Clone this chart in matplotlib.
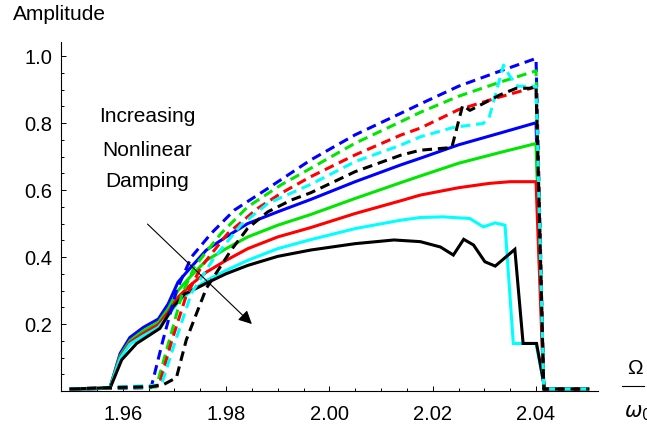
import matplotlib.pyplot as plt
from matplotlib.ticker import MultipleLocator, FixedLocator
from matplotlib.lines import Line2D

plt.rcParams['font.family'] = ['Liberation Sans', 'DejaVu Sans']

# frequency ratio Omega/omega_0 and response amplitude, read per curve
# solid curves
w_blue_s = [1.95, 1.9575, 1.9595, 1.9614, 1.964, 1.9669, 1.9688, 1.9707, 1.973, 1.9762, 1.980, 1.9842,
            1.990, 1.9964, 2.005, 2.0138, 2.0176, 2.025, 2.033, 2.040, 2.0415, 2.05]
a_blue_s = [0.006, 0.008, 0.112, 0.16, 0.19, 0.215, 0.26, 0.325, 0.366, 0.421, 0.46, 0.50,
            0.535, 0.572, 0.625, 0.675, 0.695, 0.735, 0.77, 0.801, 0.006, 0.006]

w_green_s = [1.95, 1.9575, 1.9595, 1.9614, 1.964, 1.9669, 1.9688, 1.9707, 1.973, 1.9762, 1.980, 1.9842,
             1.990, 1.9964, 2.005, 2.0138, 2.0176, 2.025, 2.033, 2.040, 2.0415, 2.05]
a_green_s = [0.006, 0.008, 0.105, 0.15, 0.18, 0.205, 0.245, 0.30, 0.34, 0.39, 0.425, 0.46,
             0.495, 0.527, 0.575, 0.622, 0.642, 0.68, 0.712, 0.739, 0.006, 0.006]

w_red_s = [1.95, 1.9575, 1.9595, 1.9614, 1.964, 1.9669, 1.9688, 1.9707, 1.973, 1.9762, 1.980, 1.9842,
           1.990, 1.9964, 2.005, 2.0138, 2.0176, 2.025, 2.031, 2.035, 2.040, 2.0415, 2.05]
a_red_s = [0.006, 0.008, 0.10, 0.145, 0.172, 0.198, 0.235, 0.28, 0.315, 0.355, 0.39, 0.425,
           0.46, 0.488, 0.53, 0.568, 0.585, 0.607, 0.62, 0.625, 0.625, 0.006, 0.006]

w_cyan_s = [1.95, 1.9575, 1.9595, 1.9614, 1.964, 1.9669, 1.9688, 1.9707, 1.973, 1.9762, 1.980, 1.9842,
            1.990, 1.9964, 2.005, 2.0138, 2.0176, 2.022, 2.0272, 2.0298, 2.0321, 2.034, 2.0356,
            2.040, 2.0417, 2.05]
a_cyan_s = [0.006, 0.008, 0.097, 0.14, 0.165, 0.19, 0.225, 0.265, 0.295, 0.33, 0.36, 0.39,
            0.425, 0.452, 0.485, 0.51, 0.518, 0.52, 0.515, 0.49, 0.502, 0.495, 0.142,
            0.142, 0.006, 0.006]

w_black_s = [1.95, 1.9576, 1.9598, 1.9627, 1.965, 1.9672, 1.9698, 1.972, 1.9743, 1.9762, 1.980, 1.9842,
             1.990, 1.9964, 2.005, 2.0125, 2.0176, 2.0215, 2.024, 2.026, 2.0279, 2.0301, 2.0321,
             2.0359, 2.0375, 2.0401, 2.0417, 2.05]
a_black_s = [0.006, 0.01, 0.093, 0.142, 0.165, 0.187, 0.252, 0.29, 0.307, 0.322, 0.35, 0.375,
             0.402, 0.421, 0.44, 0.451, 0.446, 0.43, 0.406, 0.453, 0.436, 0.386, 0.373,
             0.423, 0.142, 0.142, 0.006, 0.006]

# dashed curves
w_blue_d = [1.95, 1.9655, 1.9678, 1.9704, 1.9733, 1.9771, 1.9816, 1.9881, 1.9964, 2.005, 2.0138,
            2.0176, 2.025, 2.033, 2.040, 2.0415, 2.05]
a_blue_d = [0.006, 0.01, 0.152, 0.30, 0.40, 0.47, 0.54, 0.605, 0.69, 0.765, 0.829,
            0.857, 0.91, 0.955, 0.993, 0.006, 0.006]

w_green_d = [1.95, 1.9665, 1.969, 1.9715, 1.9739, 1.979, 1.9842, 1.9906, 1.9964, 2.005, 2.0138,
             2.0176, 2.025, 2.033, 2.040, 2.0415, 2.05]
a_green_d = [0.006, 0.012, 0.15, 0.29, 0.371, 0.47, 0.55, 0.615, 0.665, 0.74, 0.804,
             0.832, 0.88, 0.922, 0.956, 0.006, 0.006]

w_red_d = [1.95, 1.967, 1.9695, 1.9722, 1.9752, 1.9803, 1.9861, 1.9906, 1.9964, 2.005, 2.0138,
           2.0176, 2.025, 2.033, 2.040, 2.0415, 2.05]
a_red_d = [0.006, 0.015, 0.15, 0.28, 0.371, 0.47, 0.545, 0.59, 0.64, 0.705, 0.764,
           0.785, 0.84, 0.878, 0.908, 0.006, 0.006]

w_cyan_d = [1.95, 1.9675, 1.970, 1.9733, 1.9778, 1.9829, 1.9881, 1.9964, 2.005, 2.0138, 2.0176,
            2.024, 2.0298, 2.031, 2.0337, 2.035, 2.0365, 2.040, 2.0415, 2.05]
a_cyan_d = [0.006, 0.018, 0.14, 0.292, 0.40, 0.496, 0.56, 0.617, 0.685, 0.734, 0.759,
            0.787, 0.799, 0.82, 0.973, 0.938, 0.91, 0.91, 0.006, 0.006]

w_black_d = [1.95, 1.957, 1.9655, 1.968, 1.9704, 1.9723, 1.9743, 1.9762, 1.981, 1.9842, 1.9881,
             1.9926, 1.9964, 2.005, 2.0138, 2.0176, 2.0237, 2.0258, 2.0272, 2.029, 2.033,
             2.0362, 2.0388, 2.040, 2.0415, 2.05]
a_black_d = [0.006, 0.01, 0.013, 0.02, 0.04, 0.152, 0.232, 0.307, 0.421, 0.486, 0.535,
             0.57, 0.592, 0.655, 0.704, 0.719, 0.727, 0.853, 0.838, 0.852, 0.884,
             0.904, 0.904, 0.91, 0.006, 0.006]

solid = [(w_blue_s, a_blue_s, 'blue'), (w_green_s, a_green_s, 'green'), (w_red_s, a_red_s, 'red'),
         (w_cyan_s, a_cyan_s, 'cyan'), (w_black_s, a_black_s, 'black')]
dashed = [(w_blue_d, a_blue_d, 'blue'), (w_green_d, a_green_d, 'green'), (w_red_d, a_red_d, 'red'),
          (w_cyan_d, a_cyan_d, 'cyan'), (w_black_d, a_black_d, 'black')]
colors = {'blue': '#0000ff', 'green': '#00e600', 'red': '#ff0000', 'cyan': '#00ffff', 'black': '#000000'}

fig = plt.figure(figsize=(6.47, 4.28), dpi=100)
ax = fig.add_axes([0.0938, 0.0864, 0.9243 - 0.0938, 0.9026 - 0.0864])

for w, a, c in solid:
    ax.plot(w, a, color=colors[c], lw=2.2, clip_on=False, solid_joinstyle='miter')
for w, a, c in dashed:
    ax.plot(w, a, color=colors[c], lw=2.2, ls=(0, (3.2, 1.9)), clip_on=False)

ax.set_xlim(1.948, 2.052)
ax.set_ylim(0, 1.043)

for s in ['top', 'right']:
    ax.spines[s].set_visible(False)
for s in ['left', 'bottom']:
    ax.spines[s].set_linewidth(0.8)

ax.xaxis.set_major_locator(FixedLocator([1.96, 1.98, 2.00, 2.02, 2.04]))
ax.xaxis.set_minor_locator(MultipleLocator(0.005))
ax.yaxis.set_major_locator(FixedLocator([0.2, 0.4, 0.6, 0.8, 1.0]))
ax.yaxis.set_minor_locator(MultipleLocator(0.05))
ax.set_xticklabels(['1.96', '1.98', '2.00', '2.02', '2.04'])
ax.set_yticklabels(['0.2', '0.4', '0.6', '0.8', '1.0'])
ax.tick_params(which='both', direction='in', width=0.7, labelsize=14.5)
ax.tick_params(which='major', length=3.8)
ax.tick_params(which='minor', length=2.2)
ax.tick_params(axis='x', pad=10)
ax.tick_params(axis='y', pad=6)

# annotation with arrow
ax.text(1.9648, 0.819, 'Increasing', ha='center', va='center', fontsize=15)
ax.text(1.9648, 0.719, 'Nonlinear', ha='center', va='center', fontsize=15)
ax.text(1.9648, 0.625, 'Damping', ha='center', va='center', fontsize=15)
ax.annotate('', xy=(1.985, 0.2), xytext=(1.9648, 0.4985),
            arrowprops=dict(arrowstyle='-|>', color='black', lw=0.8, mutation_scale=20,
                            shrinkA=0, shrinkB=0))

# axis labels
W, H = 647, 428
fig.text(13 / W, 1 - 15 / H, 'Amplitude', ha='left', va='center', fontsize=15)
fig.text(635 / W, 1 - 369 / H, 'Ω', ha='center', va='center', fontsize=15)
fig.add_artist(Line2D([622 / W, 644 / W], [1 - 386 / H, 1 - 386 / H], color='black', lw=0.8,
                      transform=fig.transFigure))
fig.text(624 / W, 1 - 413 / H, r'$\omega_0$', ha='left', va='center', fontsize=15)

fig.savefig('out.png', dpi=100)
